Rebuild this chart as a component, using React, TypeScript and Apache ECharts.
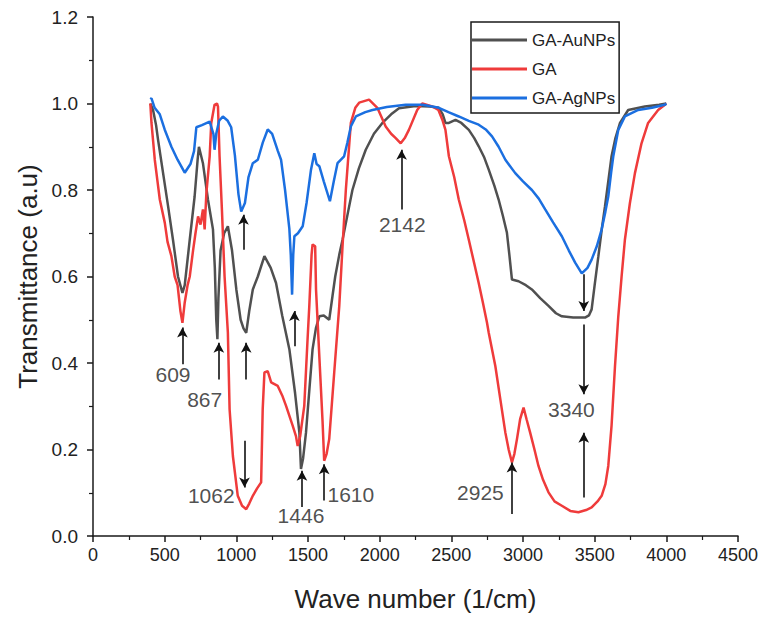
import React, { useEffect, useRef } from "react";
import * as echarts from "echarts";

const seriesNames = ["GA-AuNPs", "GA", "GA-AgNPs"];
const seriesColors = ["#505050", "#ef3b3b", "#1b6fe0"];

const gaAuNPs: [number, number][] = [
  [400,1.0],[419,0.985],[440,0.95],[454,0.916],[489,0.839],[524,0.762],[558,0.685],[593,0.60],[624,0.562],[640,0.58],
  [675,0.685],[709,0.785],[730,0.87],[739,0.90],[767,0.862],[802,0.778],[837,0.709],[850,0.62],[860,0.50],[868,0.455],
  [875,0.55],[890,0.66],[915,0.70],[941,0.716],[970,0.66],[1000,0.57],[1030,0.50],[1050,0.48],[1069,0.47],[1090,0.52],
  [1115,0.57],[1150,0.60],[1196,0.647],[1240,0.62],[1277,0.585],[1320,0.51],[1370,0.432],[1410,0.33],[1440,0.239],[1451,0.155],
  [1466,0.18],[1486,0.239],[1510,0.34],[1532,0.432],[1555,0.48],[1579,0.508],[1610,0.51],[1648,0.50],[1671,0.555],[1690,0.60],
  [1718,0.65],[1741,0.685],[1780,0.75],[1810,0.80],[1855,0.85],[1903,0.893],[1960,0.93],[2019,0.955],[2080,0.975],[2135,0.989],
  [2251,0.994],[2350,0.993],[2413,0.99],[2440,0.975],[2459,0.955],[2483,0.955],[2529,0.962],[2570,0.955],[2622,0.939],[2660,0.92],
  [2691,0.901],[2730,0.875],[2761,0.847],[2800,0.81],[2830,0.778],[2860,0.74],[2888,0.701],[2905,0.65],[2923,0.593],[2969,0.589],
  [3020,0.58],[3062,0.57],[3120,0.55],[3178,0.532],[3230,0.515],[3271,0.508],[3350,0.505],[3433,0.505],[3460,0.51],[3479,0.524],
  [3500,0.58],[3526,0.647],[3550,0.71],[3572,0.762],[3595,0.82],[3618,0.878],[3645,0.92],[3677,0.955],[3734,0.985],[3850,0.993],
  [3950,0.997],[4000,1.0]
];

const ga: [number, number][] = [
  [400,1.0],[408,0.955],[431,0.87],[450,0.82],[466,0.778],[501,0.724],[520,0.68],[547,0.647],[570,0.60],[590,0.58],
  [610,0.52],[624,0.493],[640,0.54],[660,0.58],[675,0.60],[698,0.66],[715,0.70],[733,0.739],[750,0.72],[767,0.755],
  [779,0.709],[791,0.793],[814,0.878],[825,0.955],[848,0.997],[865,1.0],[872,0.993],[883,0.878],[900,0.75],[918,0.60],
  [941,0.47],[953,0.293],[976,0.185],[1010,0.093],[1040,0.07],[1069,0.062],[1090,0.075],[1115,0.093],[1145,0.11],[1173,0.124],
  [1184,0.293],[1196,0.378],[1219,0.381],[1243,0.355],[1289,0.347],[1320,0.325],[1347,0.301],[1393,0.255],[1416,0.231],[1428,0.208],
  [1445,0.23],[1474,0.301],[1497,0.455],[1509,0.531],[1525,0.65],[1532,0.674],[1550,0.67],[1556,0.57],[1579,0.416],[1602,0.262],
  [1613,0.174],[1630,0.19],[1648,0.224],[1683,0.378],[1718,0.531],[1741,0.67],[1764,0.80],[1799,0.955],[1830,0.99],[1857,1.002],
  [1926,1.009],[1984,0.99],[2042,0.947],[2080,0.93],[2112,0.92],[2147,0.908],[2175,0.92],[2204,0.939],[2262,0.985],[2297,1.0],
  [2367,0.993],[2410,0.985],[2440,0.96],[2459,0.939],[2483,0.878],[2520,0.83],[2552,0.778],[2590,0.73],[2622,0.685],[2660,0.63],
  [2691,0.585],[2720,0.54],[2749,0.493],[2761,0.47],[2807,0.393],[2842,0.316],[2877,0.239],[2900,0.20],[2923,0.17],[2940,0.19],
  [2958,0.224],[2980,0.27],[3004,0.297],[3025,0.27],[3050,0.239],[3080,0.20],[3108,0.162],[3140,0.13],[3178,0.101],[3220,0.08],
  [3271,0.07],[3330,0.058],[3387,0.055],[3440,0.06],[3479,0.066],[3520,0.08],[3549,0.093],[3575,0.12],[3595,0.162],[3618,0.255],
  [3642,0.393],[3665,0.508],[3688,0.60],[3711,0.685],[3746,0.77],[3781,0.839],[3827,0.908],[3873,0.955],[3943,0.985],[3990,0.997],
  [4000,1.0]
];

const gaAgNPs: [number, number][] = [
  [400,1.01],[408,1.012],[430,0.99],[466,0.975],[500,0.94],[547,0.90],[590,0.87],[640,0.84],[680,0.86],[705,0.89],
  [721,0.945],[760,0.95],[814,0.958],[840,0.93],[848,0.893],[860,0.93],[880,0.96],[906,0.97],[940,0.96],[964,0.945],
  [990,0.88],[1015,0.79],[1034,0.75],[1060,0.77],[1085,0.83],[1115,0.862],[1150,0.87],[1185,0.91],[1219,0.94],[1250,0.93],
  [1290,0.89],[1312,0.87],[1340,0.80],[1370,0.71],[1380,0.65],[1389,0.558],[1397,0.65],[1405,0.693],[1430,0.70],[1463,0.716],
  [1490,0.77],[1521,0.847],[1544,0.885],[1560,0.86],[1579,0.855],[1610,0.82],[1653,0.774],[1680,0.82],[1706,0.862],[1752,0.878],
  [1775,0.91],[1799,0.947],[1834,0.97],[1900,0.98],[1950,0.985],[2050,0.992],[2181,0.997],[2300,0.997],[2413,0.99],[2480,0.98],
  [2552,0.97],[2622,0.96],[2691,0.951],[2740,0.94],[2784,0.924],[2830,0.90],[2877,0.87],[2946,0.839],[3000,0.82],[3062,0.80],
  [3110,0.78],[3155,0.755],[3210,0.725],[3271,0.693],[3320,0.66],[3364,0.632],[3410,0.607],[3450,0.62],[3479,0.639],[3515,0.67],
  [3549,0.709],[3575,0.75],[3595,0.785],[3615,0.84],[3630,0.878],[3665,0.939],[3711,0.97],[3804,0.985],[3900,0.99],[3990,0.997],
  [4000,1.0]
];

// annotation arrows: [x, yFrom, yTo(arrow head)]
const arrowList: [number, number, number][] = [
  [624, 0.397, 0.482],
  [878, 0.362, 0.447],
  [1069, 0.362, 0.447],
  [1057, 0.22, 0.112],
  [1458, 0.067, 0.151],
  [1613, 0.082, 0.166],
  [1405, 0.439, 0.52],
  [1050, 0.662, 0.743],
  [2153, 0.755, 0.893],
  [2923, 0.051, 0.17],
  [3424, 0.605, 0.52],
  [3424, 0.489, 0.328],
  [3424, 0.089, 0.239],
];

// peak labels: [text, x, y]
const peakLabels: [string, number, number][] = [
  ["609", 558, 0.374],
  ["867", 779, 0.316],
  ["1062", 825, 0.093],
  ["1446", 1451, 0.047],
  ["1610", 1799, 0.097],
  ["2142", 2158, 0.72],
  ["2925", 2703, 0.101],
  ["3340", 3338, 0.293],
];

const FONT = "'Liberation Sans', Arial, sans-serif";

export default function App() {
  const ref = useRef<HTMLDivElement>(null);
  useEffect(() => {
    if (!ref.current) return;
    const chart = echarts.init(ref.current, null, { renderer: "svg" });
    const axisColor = "#1a1a1a";
    const datasets = [gaAuNPs, ga, gaAgNPs];
    chart.setOption({
      animation: false,
      backgroundColor: "#fff",
      grid: { left: 93, right: 21, top: 17, bottom: 80, containLabel: false },
      legend: {
        data: seriesNames,
        orient: "vertical",
        left: 471,
        top: 22,
        icon: "rect",
        itemWidth: 55,
        itemHeight: 3,
        itemGap: 11,
        padding: [9, 4, 6, 1],
        borderColor: "#1a1a1a",
        borderWidth: 1.5,
        borderRadius: 0,
        textStyle: { fontFamily: FONT, fontSize: 17, color: "#222", lineHeight: 18, padding: [0, 0, 0, 0] },
      },
      xAxis: {
        type: "value",
        min: 0,
        max: 4500,
        interval: 500,
        name: "Wave number (1/cm)",
        nameLocation: "middle",
        nameGap: 50,
        nameTextStyle: { fontFamily: FONT, fontSize: 26, color: "#222" },
        axisLine: { show: true, onZero: false, lineStyle: { color: axisColor, width: 1.5 } },
        axisTick: { show: true, inside: false, length: 6, lineStyle: { color: axisColor, width: 1.5 } },
        minorTick: { show: true, splitNumber: 2, length: 4, lineStyle: { color: axisColor, width: 1.2 } },
        axisLabel: {
          fontFamily: FONT,
          fontSize: 18,
          color: "#222",
          margin: 10,
          formatter: (v: number) => String(v),
        },
        splitLine: { show: false },
      },
      yAxis: {
        type: "value",
        min: 0,
        max: 1.2,
        interval: 0.2,
        name: "Transmittance (a.u)",
        nameLocation: "middle",
        nameGap: 51,
        nameTextStyle: { fontFamily: FONT, fontSize: 26, color: "#222" },
        axisLine: { show: true, lineStyle: { color: axisColor, width: 1.5 } },
        axisTick: { show: true, inside: false, length: 6, lineStyle: { color: axisColor, width: 1.5 } },
        minorTick: { show: true, splitNumber: 2, length: 4, lineStyle: { color: axisColor, width: 1.2 } },
        axisLabel: {
          fontFamily: FONT,
          fontSize: 19,
          color: "#222",
          margin: 15,
          formatter: (v: number) => v.toFixed(1),
        },
        splitLine: { show: false },
      },
      series: [
        ...seriesNames.map((name, i) => ({
          name,
          type: "line",
          data: datasets[i],
          showSymbol: false,
          symbol: "none",
          smooth: false,
          lineStyle: { color: seriesColors[i], width: 2.5 },
          itemStyle: { color: seriesColors[i] },
          z: 2 + i,
        })),
        {
          name: "arrows",
          type: "line",
          data: [],
          silent: true,
          z: 10,
          markLine: {
            silent: true,
            animation: false,
            symbol: ["none", "arrow"],
            symbolSize: [8, 10],
            label: { show: false },
            lineStyle: { color: "#111", width: 1.6, type: "solid" },
            data: arrowList.map(([x, y1, y2]) => [
              { coord: [x, y1] },
              { coord: [x, y2] },
            ]),
          },
        },
        {
          name: "peaks",
          type: "scatter",
          silent: true,
          z: 11,
          symbolSize: 0,
          data: peakLabels.map(([t, x, y]) => ({ name: t, value: [x, y] })),
          label: {
            show: true,
            position: "inside",
            formatter: "{b}",
            fontFamily: FONT,
            fontSize: 21,
            color: "#222",
          },
        },
      ],
    });
    return () => chart.dispose();
  }, []);
  return (
    <div
      ref={ref}
      style={{ position: "fixed", left: 0, top: 0, width: 761, height: 617 }}
    />
  );
}
